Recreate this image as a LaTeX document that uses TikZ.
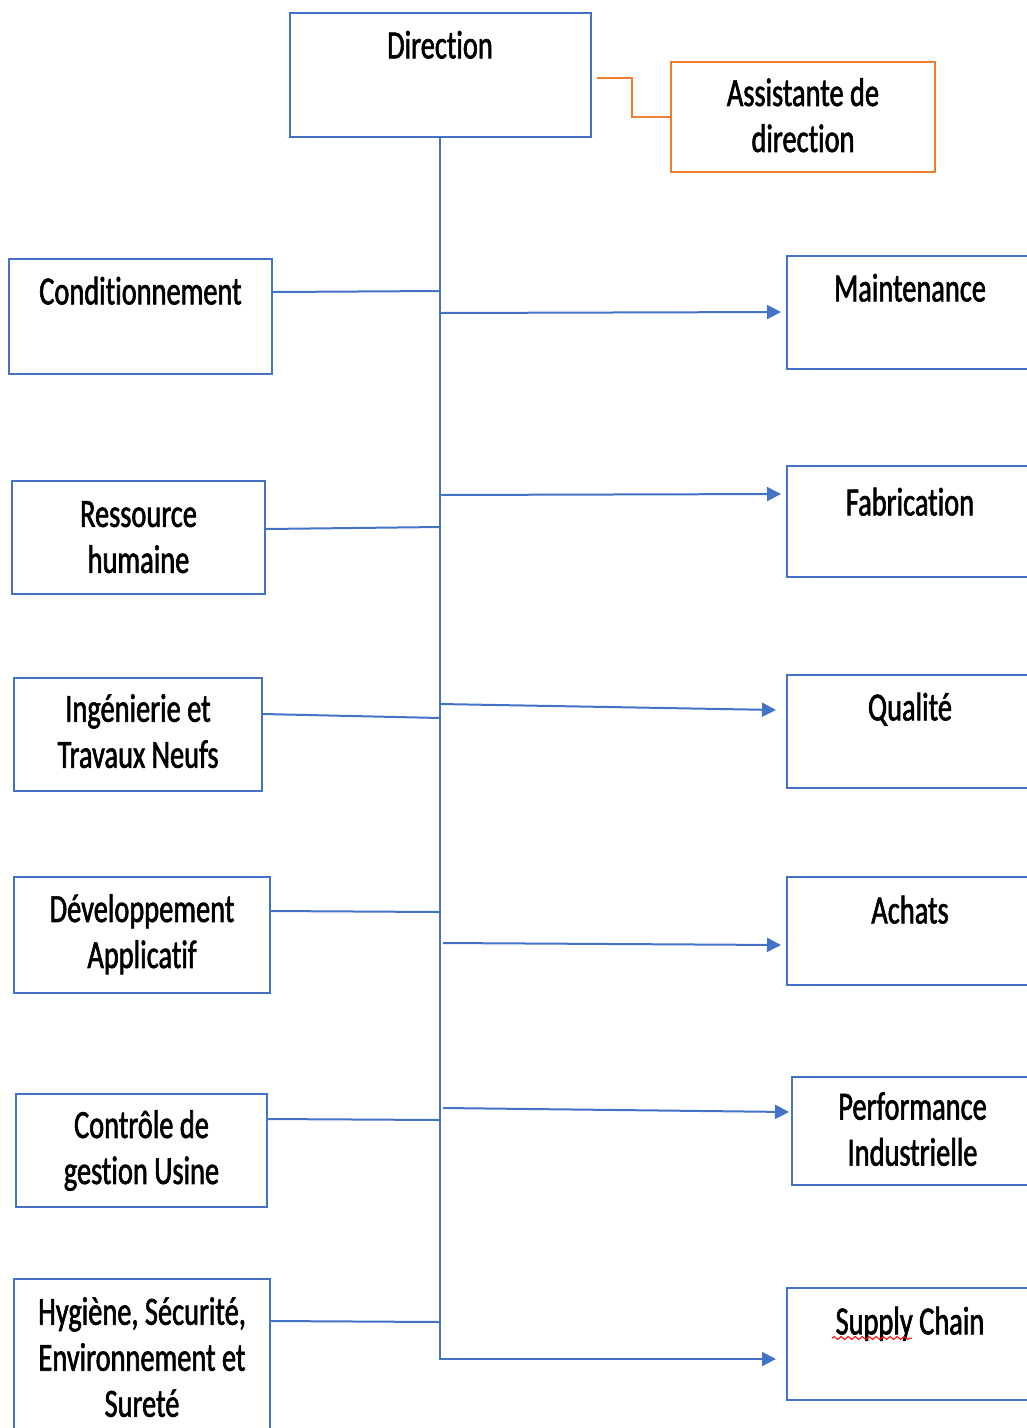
\documentclass[tikz,border=0pt]{standalone}
\usepackage{fontspec}
\setmainfont{Carlito}[FakeStretch=0.71,FakeBold=1.5,Ligatures={NoCommon,NoRare}]
\usetikzlibrary{arrows.meta,decorations.pathmorphing}
\definecolor{orgblue}{HTML}{4472C4}
\definecolor{orgorange}{HTML}{ED7D31}
\begin{document}
\begin{tikzpicture}[x=1pt,y=-1pt,
  unitbox/.style={draw=orgblue,line width=2pt,inner sep=0pt,rectangle},
  asstbox/.style={draw=orgorange,line width=2pt,inner sep=0pt,rectangle},
  txt/.style={font=\fontsize{40}{46}\selectfont,align=center,inner sep=0pt,anchor=north,
    execute at begin node=\strut,execute at end node=\strut},
  link/.style={draw=orgblue,line width=2pt},
  feed/.style={link,-{Triangle[length=14pt,width=14pt]}}]
\useasboundingbox (0,0) rectangle (1027,1428);
\clip (0,0) rectangle (1027,1428);

% head of the organisation
\node[unitbox,minimum width=301pt,minimum height=124pt] (dir) at (440,75) {};
\node[txt] (tdir) at ([yshift=-14pt]dir.north) {Direction};
\node[asstbox,minimum width=264pt,minimum height=110pt] (asst) at (803,117) {};
\node[txt] (tasst) at ([yshift=-17pt]asst.north) {Assistante de\\direction};

% units on the left
\node[unitbox,minimum width=263pt,minimum height=115pt] (cond) at (140.5,316.5) {};
\node[txt] (tcond) at ([yshift=-14pt]cond.north) {Conditionnement};
\node[unitbox,minimum width=253pt,minimum height=113pt] (rh) at (138.5,537.5) {};
\node[txt] (trh) at ([yshift=-21pt]rh.north) {Ressource\\humaine};
\node[unitbox,minimum width=248pt,minimum height=113pt] (ing) at (138,734.5) {};
\node[txt] (ting) at ([yshift=-17pt]ing.north) {Ingénierie et\\Travaux Neufs};
\node[unitbox,minimum width=256pt,minimum height=116pt] (dev) at (142,935) {};
\node[txt] (tdev) at ([yshift=-18pt]dev.north) {Développement\\Applicatif};
\node[unitbox,minimum width=251pt,minimum height=113pt] (cg) at (141.5,1150.5) {};
\node[txt] (tcg) at ([yshift=-17pt]cg.north) {Contrôle de\\gestion Usine};
\node[unitbox,minimum width=256pt,minimum height=160pt] (hse) at (142,1359) {};
\node[txt] (thse) at ([yshift=-19pt]hse.north) {Hygiène, Sécurité,\\Environnement et\\Sureté};

% units on the right
\node[unitbox,minimum width=246pt,minimum height=113pt] (maint) at (910,312.5) {};
\node[txt] (tmaint) at ([yshift=-14pt]maint.north) {Maintenance};
\node[unitbox,minimum width=246pt,minimum height=111pt] (fab) at (910,521.5) {};
\node[txt] (tfab) at ([yshift=-18pt]fab.north) {Fabrication};
\node[unitbox,minimum width=246pt,minimum height=113pt] (qual) at (910,731.5) {};
\node[txt] (tqual) at ([yshift=-14pt]qual.north) {Qualité};
\node[unitbox,minimum width=246pt,minimum height=108pt] (ach) at (910,931) {};
\node[txt] (tach) at ([yshift=-15pt]ach.north) {Achats};
\node[unitbox,minimum width=241pt,minimum height=108pt] (perf) at (912.5,1131) {};
\node[txt] (tperf) at ([yshift=-16pt]perf.north) {Performance\\Industrielle};
\node[unitbox,minimum width=246pt,minimum height=112pt] (sup) at (910,1344) {};
\node[txt] (tsup) at ([yshift=-15pt]sup.north) {Supply Chain};
% spell-check mark under the first word
\draw[red,line width=1pt,decorate,decoration={snake,segment length=7pt,amplitude=1.5pt}]
  ([xshift=46pt,yshift=-51pt]sup.north west) -- ++(80,0);

% junction points on the trunk
\coordinate (jc) at (440,291);
\coordinate (jr) at (440,527);
\coordinate (ji) at (440,718);
\coordinate (jd) at (440,912);
\coordinate (jg) at (440,1120);
\coordinate (jh) at (440,1322);
\coordinate (jm) at (440,313);
\coordinate (jf) at (440,495);
\coordinate (jq) at (440,704);
\coordinate (ja) at (443,943);
\coordinate (jp) at (443,1108);

% trunk, ending in the last branch
\draw[feed] (dir.south) |- ([xshift=-10pt,yshift=-72pt]sup.north west);

% assistant link
\draw[orgorange,line width=2pt] ([xshift=5pt,yshift=-66pt]dir.north east) -- ++(35,0) |- (asst.west);

% left branches
\draw[link] ([yshift=-34pt]cond.north east) -- (jc);
\draw[link] ([yshift=-49pt]rh.north east) -- (jr);
\draw[link] ([yshift=-37pt]ing.north east) -- (ji);
\draw[link] ([yshift=-35pt]dev.north east) -- (jd);
\draw[link] ([yshift=-26pt]cg.north east) -- (jg);
\draw[link] ([yshift=-43pt]hse.north east) -- (jh);

% right branches
\draw[feed] (jm) -- ([xshift=-5pt,yshift=-57pt]maint.north west);
\draw[feed] (jf) -- ([xshift=-5pt,yshift=-29pt]fab.north west);
\draw[feed] (jq) -- ([xshift=-10pt,yshift=-36pt]qual.north west);
\draw[feed] (ja) -- ([xshift=-5pt,yshift=-69pt]ach.north west);
\draw[feed] (jp) -- ([xshift=-2pt,yshift=-36pt]perf.north west);
\end{tikzpicture}
\end{document}
